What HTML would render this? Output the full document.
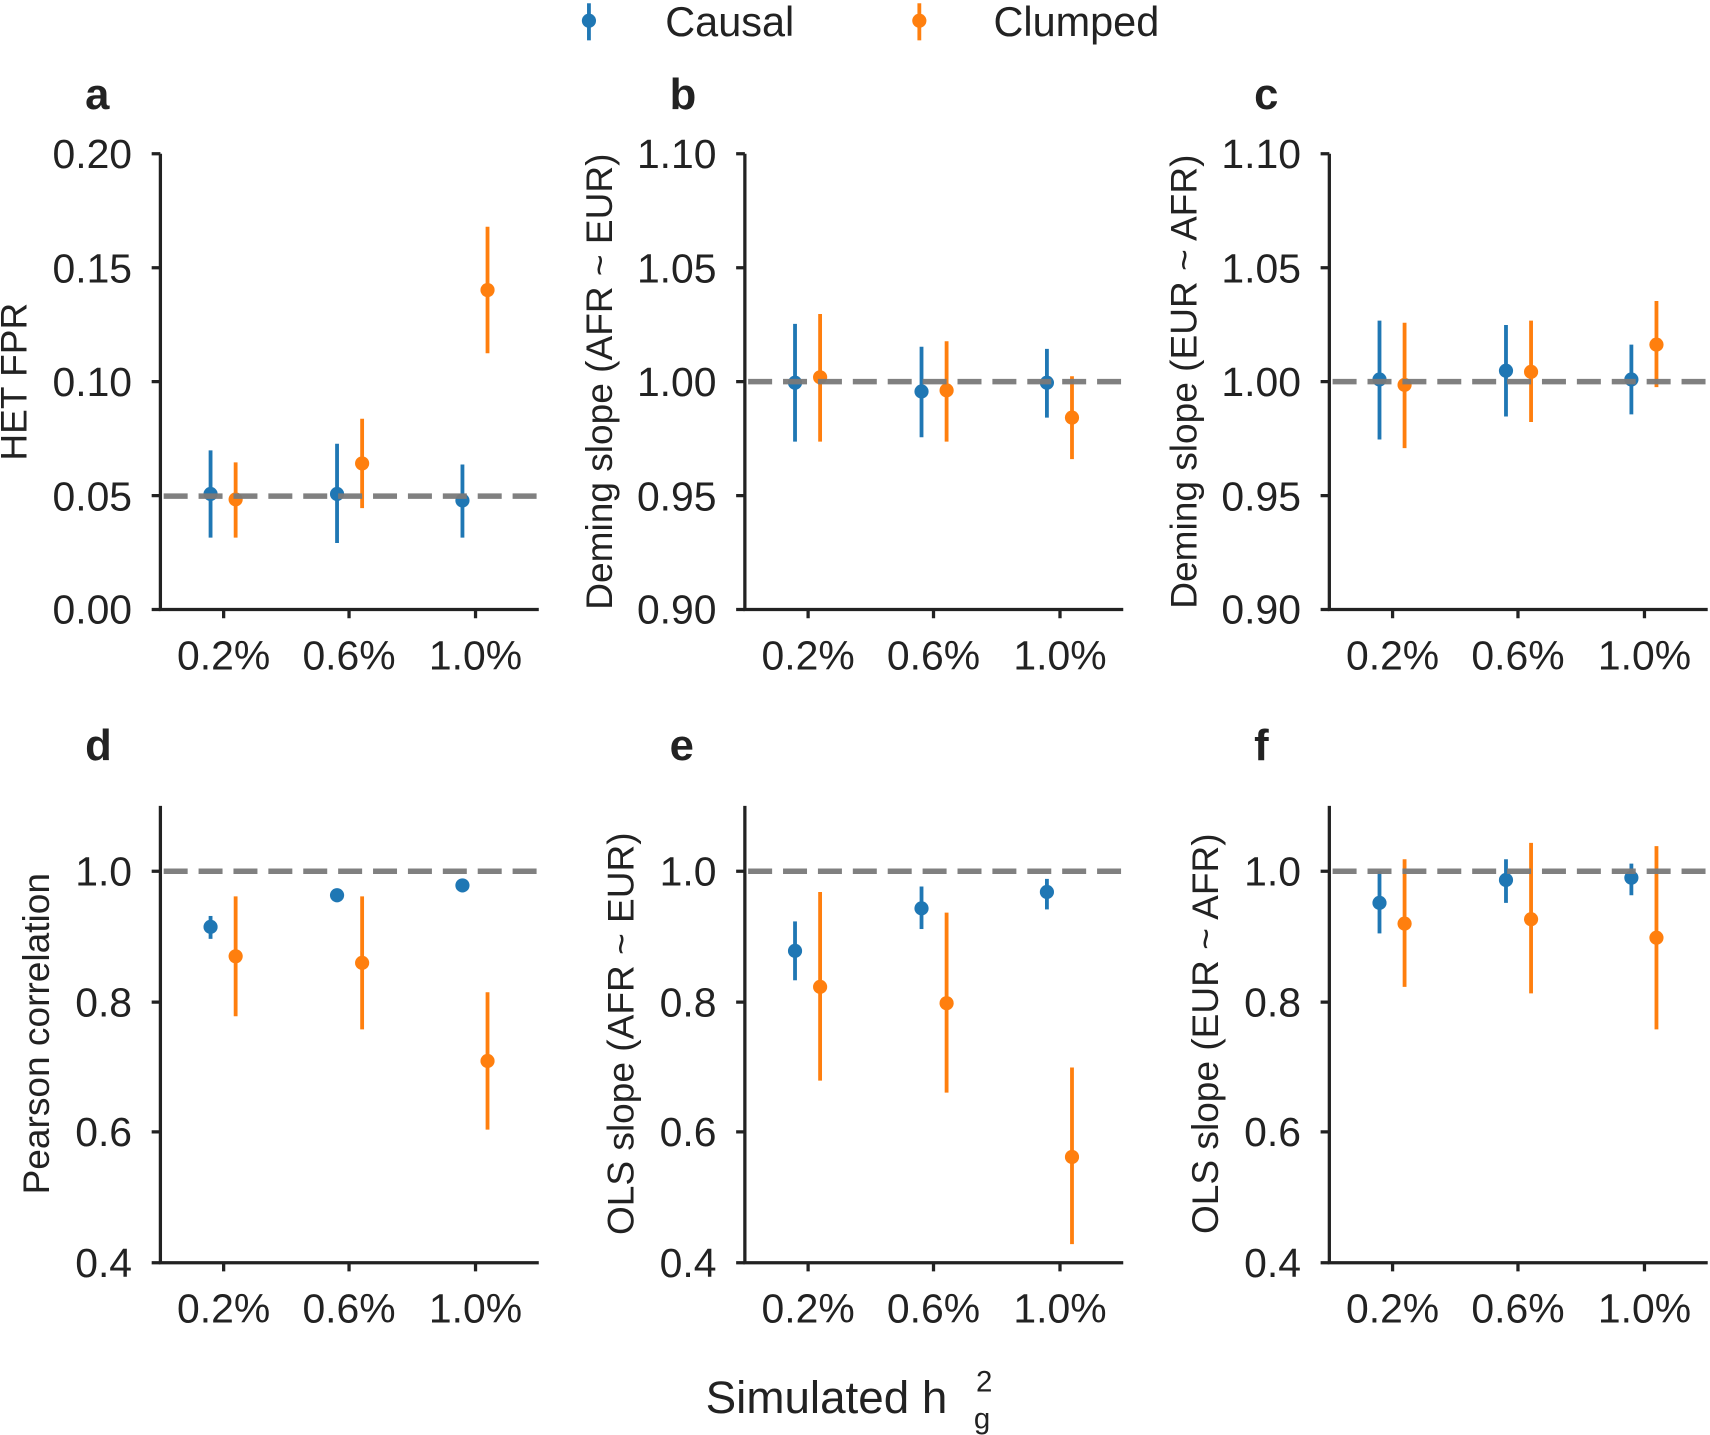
<!DOCTYPE html>
<html><head><meta charset="utf-8"><style>
html,body{margin:0;padding:0;background:#fff;}
svg{display:block;}
text{font-family:"Liberation Sans",Arial,sans-serif;fill:#222;}
</style></head><body>
<svg width="1710" height="1435" viewBox="0 0 1568 1316" xmlns="http://www.w3.org/2000/svg">
<defs>
<style>
.sp{stroke:#222;stroke-width:3;fill:none}
.tk{font-size:37.5px}
.lb{font-size:34px}
.pl{font-size:40px;font-weight:bold}
.dash{stroke:#7a7a7a;stroke-width:5;stroke-dasharray:22,10;opacity:0.95}
.b{stroke:#1f77b4;stroke-width:3.5}
.o{stroke:#ff7f0e;stroke-width:3.5}
</style>
</defs>

<!-- Legend -->
<line x1="540" y1="3" x2="540" y2="37" class="b"/><circle cx="540" cy="19" r="6.5" fill="#1f77b4"/>
<text x="610" y="33" font-size="38">Causal</text>
<line x1="843" y1="3" x2="843" y2="37" class="o"/><circle cx="843" cy="19" r="6.5" fill="#ff7f0e"/>
<text x="911" y="33" font-size="38">Clumped</text>

<!-- Panel letters -->
<text class="pl" x="78" y="100">a</text>
<text class="pl" x="614" y="100">b</text>
<text class="pl" x="1150" y="100">c</text>
<text class="pl" x="78" y="697">d</text>
<text class="pl" x="614" y="697">e</text>
<text class="pl" x="1150" y="697">f</text>

<!-- Panel a -->
<g>
<path class="sp" d="M147 141 V559 H494"/>
<path class="sp" d="M139 141H147M139 245.5H147M139 350H147M139 454.5H147M139 559H147M205 559V567M320 559V567M436 559V567"/>
<g class="tk" text-anchor="end">
<text x="121" y="154">0.20</text><text x="121" y="259">0.15</text><text x="121" y="363">0.10</text><text x="121" y="468">0.05</text><text x="121" y="572">0.00</text></g>
<g class="tk" text-anchor="middle"><text x="205" y="614">0.2%</text><text x="320" y="614">0.6%</text><text x="436" y="614">1.0%</text></g>
<text class="lb" transform="translate(24,350) rotate(-90)" text-anchor="middle">HET FPR</text>
<line class="b" x1="193" y1="413" x2="193" y2="493"/><circle cx="193" cy="453" r="6.5" fill="#1f77b4"/>
<line class="b" x1="309" y1="407" x2="309" y2="498"/><circle cx="309" cy="453" r="6.5" fill="#1f77b4"/>
<line class="b" x1="424" y1="426" x2="424" y2="493"/><circle cx="424" cy="459" r="6.5" fill="#1f77b4"/>
<line class="o" x1="216" y1="424" x2="216" y2="493"/><circle cx="216" cy="458" r="6.5" fill="#ff7f0e"/>
<line class="o" x1="332" y1="384" x2="332" y2="466"/><circle cx="332" cy="425" r="6.5" fill="#ff7f0e"/>
<line class="o" x1="447" y1="208" x2="447" y2="324"/><circle cx="447" cy="266" r="6.5" fill="#ff7f0e"/>
<line class="dash" x1="150" y1="455" x2="494" y2="455"/>
</g>

<!-- Panel b -->
<g>
<path class="sp" d="M683 141 V559 H1030"/>
<path class="sp" d="M675 141H683M675 245.5H683M675 350H683M675 454.5H683M675 559H683M741 559V567M856 559V567M972 559V567"/>
<g class="tk" text-anchor="end">
<text x="657" y="154">1.10</text><text x="657" y="259">1.05</text><text x="657" y="363">1.00</text><text x="657" y="468">0.95</text><text x="657" y="572">0.90</text></g>
<g class="tk" text-anchor="middle"><text x="741" y="614">0.2%</text><text x="856" y="614">0.6%</text><text x="972" y="614">1.0%</text></g>
<text class="lb" transform="translate(561,350) rotate(-90)" text-anchor="middle">Deming slope (AFR ~ EUR)</text>
<line class="b" x1="729" y1="297" x2="729" y2="405"/><circle cx="729" cy="351" r="6.5" fill="#1f77b4"/>
<line class="b" x1="845" y1="318" x2="845" y2="401"/><circle cx="845" cy="359" r="6.5" fill="#1f77b4"/>
<line class="b" x1="960" y1="320" x2="960" y2="383"/><circle cx="960" cy="351" r="6.5" fill="#1f77b4"/>
<line class="o" x1="752" y1="288" x2="752" y2="405"/><circle cx="752" cy="346" r="6.5" fill="#ff7f0e"/>
<line class="o" x1="868" y1="313" x2="868" y2="405"/><circle cx="868" cy="358" r="6.5" fill="#ff7f0e"/>
<line class="o" x1="983" y1="345" x2="983" y2="421"/><circle cx="983" cy="383" r="6.5" fill="#ff7f0e"/>
<line class="dash" x1="686" y1="350" x2="1030" y2="350"/>
</g>

<!-- Panel c -->
<g>
<path class="sp" d="M1219 141 V559 H1566"/>
<path class="sp" d="M1211 141H1219M1211 245.5H1219M1211 350H1219M1211 454.5H1219M1211 559H1219M1277 559V567M1392 559V567M1508 559V567"/>
<g class="tk" text-anchor="end">
<text x="1193" y="154">1.10</text><text x="1193" y="259">1.05</text><text x="1193" y="363">1.00</text><text x="1193" y="468">0.95</text><text x="1193" y="572">0.90</text></g>
<g class="tk" text-anchor="middle"><text x="1277" y="614">0.2%</text><text x="1392" y="614">0.6%</text><text x="1508" y="614">1.0%</text></g>
<text class="lb" transform="translate(1097,350) rotate(-90)" text-anchor="middle">Deming slope (EUR ~ AFR)</text>
<line class="b" x1="1265" y1="294" x2="1265" y2="403"/><circle cx="1265" cy="348" r="6.5" fill="#1f77b4"/>
<line class="b" x1="1381" y1="298" x2="1381" y2="382"/><circle cx="1381" cy="340" r="6.5" fill="#1f77b4"/>
<line class="b" x1="1496" y1="316" x2="1496" y2="380"/><circle cx="1496" cy="348" r="6.5" fill="#1f77b4"/>
<line class="o" x1="1288" y1="296" x2="1288" y2="411"/><circle cx="1288" cy="353" r="6.5" fill="#ff7f0e"/>
<line class="o" x1="1404" y1="294" x2="1404" y2="387"/><circle cx="1404" cy="341" r="6.5" fill="#ff7f0e"/>
<line class="o" x1="1519" y1="276" x2="1519" y2="355"/><circle cx="1519" cy="316" r="6.5" fill="#ff7f0e"/>
<line class="dash" x1="1222" y1="350" x2="1568" y2="350"/>
</g>

<!-- Panel d -->
<g>
<path class="sp" d="M147 739 V1158 H494"/>
<path class="sp" d="M139 799H147M139 919H147M139 1038H147M139 1158H147M205 1158V1166M320 1158V1166M436 1158V1166"/>
<g class="tk" text-anchor="end">
<text x="121" y="812">1.0</text><text x="121" y="932">0.8</text><text x="121" y="1051">0.6</text><text x="121" y="1171">0.4</text></g>
<g class="tk" text-anchor="middle"><text x="205" y="1213">0.2%</text><text x="320" y="1213">0.6%</text><text x="436" y="1213">1.0%</text></g>
<text class="lb" transform="translate(45,948) rotate(-90)" text-anchor="middle">Pearson correlation</text>
<line class="b" x1="193" y1="840" x2="193" y2="861"/><circle cx="193" cy="850" r="6.5" fill="#1f77b4"/>
<circle cx="309" cy="821" r="6.5" fill="#1f77b4"/>
<circle cx="424" cy="812" r="6.5" fill="#1f77b4"/>
<line class="o" x1="216" y1="822" x2="216" y2="932"/><circle cx="216" cy="877" r="6.5" fill="#ff7f0e"/>
<line class="o" x1="332" y1="822" x2="332" y2="944"/><circle cx="332" cy="883" r="6.5" fill="#ff7f0e"/>
<line class="o" x1="447" y1="910" x2="447" y2="1036"/><circle cx="447" cy="973" r="6.5" fill="#ff7f0e"/>
<line class="dash" x1="150" y1="799" x2="494" y2="799"/>
</g>

<!-- Panel e -->
<g>
<path class="sp" d="M683 739 V1158 H1030"/>
<path class="sp" d="M675 799H683M675 919H683M675 1038H683M675 1158H683M741 1158V1166M856 1158V1166M972 1158V1166"/>
<g class="tk" text-anchor="end">
<text x="657" y="812">1.0</text><text x="657" y="932">0.8</text><text x="657" y="1051">0.6</text><text x="657" y="1171">0.4</text></g>
<g class="tk" text-anchor="middle"><text x="741" y="1213">0.2%</text><text x="856" y="1213">0.6%</text><text x="972" y="1213">1.0%</text></g>
<text class="lb" transform="translate(581,948) rotate(-90)" text-anchor="middle">OLS slope (AFR ~ EUR)</text>
<line class="b" x1="729" y1="845" x2="729" y2="899"/><circle cx="729" cy="872" r="6.5" fill="#1f77b4"/>
<line class="b" x1="845" y1="813" x2="845" y2="852"/><circle cx="845" cy="833" r="6.5" fill="#1f77b4"/>
<line class="b" x1="960" y1="806" x2="960" y2="834"/><circle cx="960" cy="818" r="6.5" fill="#1f77b4"/>
<line class="o" x1="752" y1="818" x2="752" y2="991"/><circle cx="752" cy="905" r="6.5" fill="#ff7f0e"/>
<line class="o" x1="868" y1="837" x2="868" y2="1002"/><circle cx="868" cy="920" r="6.5" fill="#ff7f0e"/>
<line class="o" x1="983" y1="979" x2="983" y2="1141"/><circle cx="983" cy="1061" r="6.5" fill="#ff7f0e"/>
<line class="dash" x1="686" y1="799" x2="1030" y2="799"/>
</g>

<!-- Panel f -->
<g>
<path class="sp" d="M1219 739 V1158 H1566"/>
<path class="sp" d="M1211 799H1219M1211 919H1219M1211 1038H1219M1211 1158H1219M1277 1158V1166M1392 1158V1166M1508 1158V1166"/>
<g class="tk" text-anchor="end">
<text x="1193" y="812">1.0</text><text x="1193" y="932">0.8</text><text x="1193" y="1051">0.6</text><text x="1193" y="1171">0.4</text></g>
<g class="tk" text-anchor="middle"><text x="1277" y="1213">0.2%</text><text x="1392" y="1213">0.6%</text><text x="1508" y="1213">1.0%</text></g>
<text class="lb" transform="translate(1117,948) rotate(-90)" text-anchor="middle">OLS slope (EUR ~ AFR)</text>
<line class="b" x1="1265" y1="799" x2="1265" y2="856"/><circle cx="1265" cy="828" r="6.5" fill="#1f77b4"/>
<line class="b" x1="1381" y1="788" x2="1381" y2="828"/><circle cx="1381" cy="807" r="6.5" fill="#1f77b4"/>
<line class="b" x1="1496" y1="792" x2="1496" y2="821"/><circle cx="1496" cy="805" r="6.5" fill="#1f77b4"/>
<line class="o" x1="1288" y1="788" x2="1288" y2="905"/><circle cx="1288" cy="847" r="6.5" fill="#ff7f0e"/>
<line class="o" x1="1404" y1="773" x2="1404" y2="911"/><circle cx="1404" cy="843" r="6.5" fill="#ff7f0e"/>
<line class="o" x1="1519" y1="776" x2="1519" y2="944"/><circle cx="1519" cy="860" r="6.5" fill="#ff7f0e"/>
<line class="dash" x1="1222" y1="799" x2="1568" y2="799"/>
</g>

<!-- X label -->
<text x="647" y="1296" font-size="42">Simulated h</text>
<text x="895" y="1276" font-size="27">2</text>
<text x="893" y="1310" font-size="27">g</text>
</svg>
</body></html>
